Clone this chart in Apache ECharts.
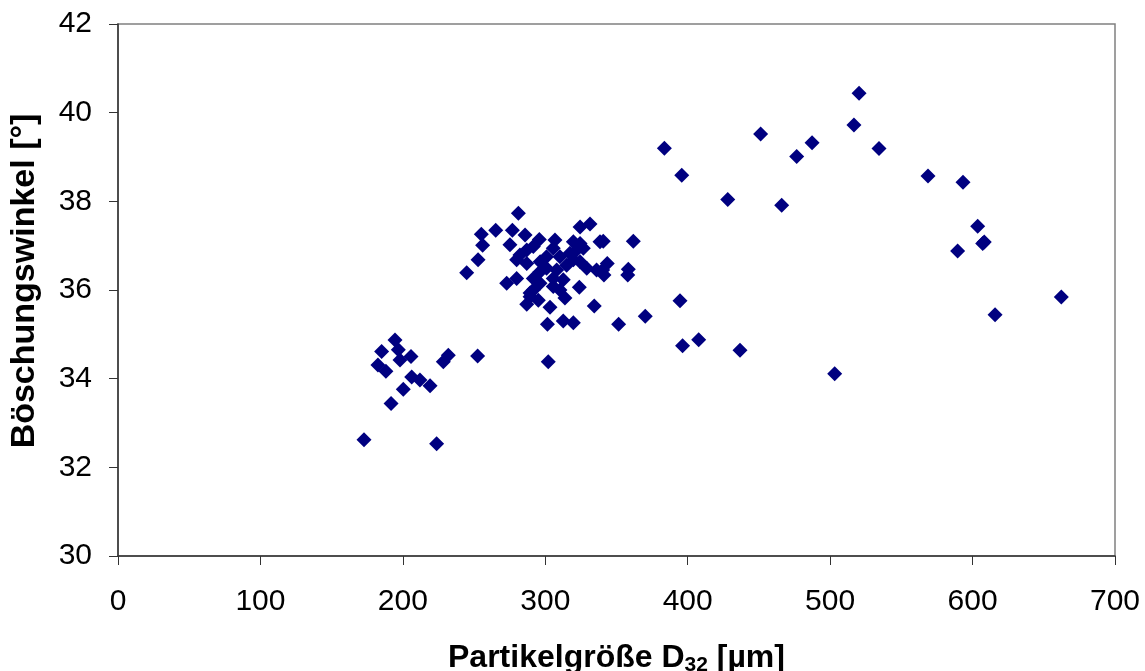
<!DOCTYPE html>
<html><head><meta charset="utf-8">
<script src="https://cdn.jsdelivr.net/npm/echarts@6/dist/echarts.min.js"></script>
<style>html,body{margin:0;padding:0;background:#fff}#c{width:1145px;height:671px}</style>
</head><body><div id="c"></div>
<script>
const xTicks = [0,100,200,300,400,500,600,700];
const yTicks = [30,32,34,36,38,40,42];
const particleSize = [
 520.3,516.7,451.2,383.6,487.3,476.5,534.3,395.8,568.7,593.3,428.1,466.0,603.6,607.1,608.2,589.5,662.3,615.8,503.2,436.7,407.7,396.4,394.6,370.2,351.5,361.8,340.7,343.5,358.3,357.9,341.2,
 281.1,255.1,265.2,276.9,256.0,252.8,244.8,324.4,331.4,338.4,340.3,336.0,323.9,334.4,301.5,312.6,319.7,303.3,313.8,305.6,310.3,287.0,295.1,289.3,272.9,279.9,275.2,285.8,295.8,306.8,319.7,324.4,305.6,279.9,282.2,287.0,291.6,287.0,296.4,300.9,310.3,317.3,322.0,326.7,296.3,291.6,300.9,308.0,315.0,319.7,324.4,329.1,312.6,305.6,296.3,291.6,289.3,
 194.5,185.1,196.8,198.0,205.7,182.5,188.1,206.2,212.0,219.1,200.3,191.7,172.7,223.7,228.4,231.9,252.5,302.1
];
const reposeAngle = [
 40.44,39.72,39.52,39.20,39.32,39.01,39.19,38.59,38.57,38.43,38.04,37.91,37.44,37.05,37.08,36.88,35.84,35.44,34.11,34.64,34.88,34.74,35.76,35.41,35.23,37.10,37.10,36.60,36.47,36.34,36.34,
 37.73,37.26,37.35,37.35,37.01,36.68,36.39,37.42,37.49,37.09,36.45,36.45,36.06,35.64,35.23,35.30,35.26,35.61,35.82,36.08,36.00,35.68,35.77,35.93,36.15,36.26,37.02,37.24,37.14,37.13,37.09,37.05,36.94,36.68,36.79,36.90,36.98,36.60,36.64,36.75,36.75,36.83,36.90,36.94,36.41,36.26,36.49,36.45,36.56,36.68,36.64,36.49,36.23,36.26,36.15,36.00,35.85,
 34.87,34.61,34.65,34.42,34.50,34.31,34.17,34.04,33.97,33.84,33.76,33.44,32.62,32.53,34.38,34.53,34.51,34.38
];
const points = particleSize.map((x,i)=>[x, reposeAngle[i]]);
const chart = echarts.init(document.getElementById('c'), null, {renderer:'canvas'});
const font = '"Liberation Sans", Arial, sans-serif';
chart.setOption({
  animation:false,
  backgroundColor:'#fff',
  grid:{left:118,right:30,top:24,bottom:115,containLabel:false,outerBoundsMode:'none',show:true,borderColor:'#808080',borderWidth:1.5,backgroundColor:'transparent'},
  xAxis:{type:'value',min:xTicks[0],max:xTicks[xTicks.length-1],interval:100,
    axisLine:{show:true,onZero:false,lineStyle:{color:'#333',width:1.5}},
    axisTick:{show:true,inside:false,length:9,lineStyle:{color:'#333'}},
    splitLine:{show:false},
    axisLabel:{fontFamily:font,fontSize:30,color:'#000',margin:31},
    name:'{a|Partikelgröße D}{s|32}{a| [µm]}',nameLocation:'middle',nameGap:85,
    nameTextStyle:{rich:{a:{fontFamily:font,fontSize:32,fontWeight:'bold',color:'#000'},
      s:{fontFamily:font,fontSize:21,fontWeight:'bold',color:'#000',verticalAlign:'bottom',padding:[14,0,0,0]}}}
  },
  yAxis:{type:'value',min:yTicks[0],max:yTicks[yTicks.length-1],interval:2,
    axisLine:{show:true,lineStyle:{color:'#333',width:1.5}},
    axisTick:{show:true,inside:false,length:9,lineStyle:{color:'#333'}},
    splitLine:{show:false},
    axisLabel:{fontFamily:font,fontSize:30,color:'#000',margin:26},
    name:'Böschungswinkel [°]',nameLocation:'middle',nameGap:76,
    nameTextStyle:{fontFamily:font,fontSize:34,fontWeight:'bold',color:'#000',padding:[0,0,0,18]}
  },
  series:[{type:'scatter',data:points,symbol:'diamond',symbolSize:15,
    itemStyle:{color:'#000080',opacity:1}}]
});
</script></body></html>
